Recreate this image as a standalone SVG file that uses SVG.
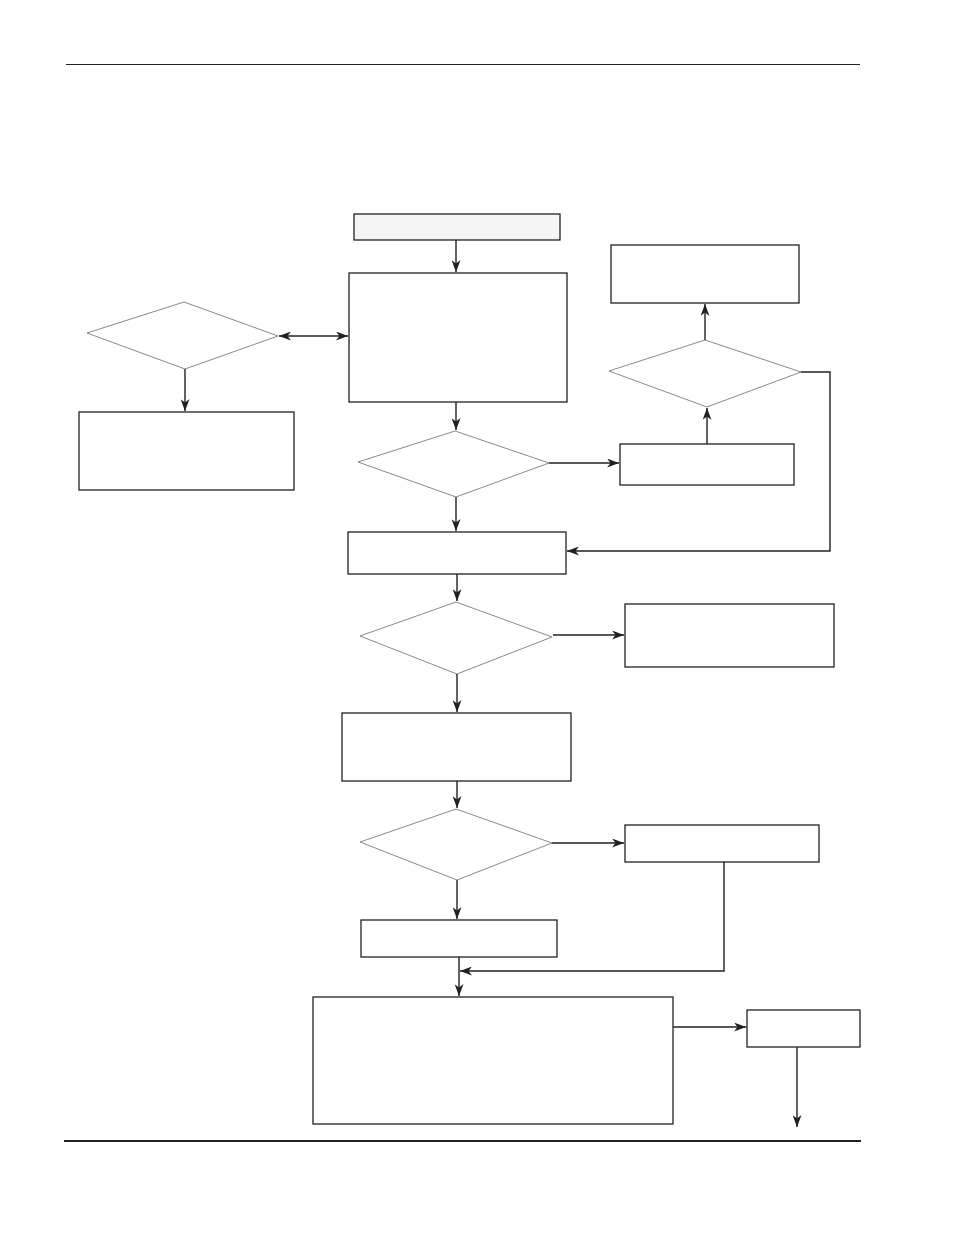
<svg xmlns="http://www.w3.org/2000/svg" width="954" height="1235" viewBox="0 0 954 1235">
<style>
.box{fill:#fff;stroke:#231f20;stroke-width:1.3}
.dia{fill:#fff;stroke:#8a8a8a;stroke-width:1}
.c{fill:none;stroke:#231f20;stroke-width:1.4}
.rule{stroke:#231f20}
</style>
<defs>
<marker id="ah" markerUnits="userSpaceOnUse" markerWidth="13" markerHeight="9" refX="12" refY="4.5" orient="auto-start-reverse" viewBox="0 0 13 9">
<path d="M0,0 L12,4.5 L0,9 L3.5,4.5 z" fill="#231f20"/>
</marker>
</defs>
<rect width="954" height="1235" fill="#fff"/>
<line class="rule" x1="66" y1="64.5" x2="860" y2="64.5" stroke-width="1.2"/>
<line class="rule" x1="64" y1="1141" x2="861" y2="1141" stroke-width="2.2"/>

<g id="start"><rect class="box" x="354" y="214" width="206" height="26" style="fill:#f5f5f5"/></g>
<g id="boxA"><rect class="box" x="349" y="273" width="218" height="129"/></g>
<g id="diaL"><polygon class="dia" points="87,333 184,302 278,336 185,369"/></g>
<g id="boxL"><rect class="box" x="79" y="412" width="215" height="78"/></g>
<g id="dia1"><polygon class="dia" points="358,462 455,431 549,463 456,497"/></g>
<g id="boxR1"><rect class="box" x="620" y="444" width="174" height="41"/></g>
<g id="diaR"><polygon class="dia" points="609,371 705,340 801,372 707,407"/></g>
<g id="boxTR"><rect class="box" x="611" y="245" width="188" height="58"/></g>
<g id="boxB"><rect class="box" x="348" y="532" width="218" height="42"/></g>
<g id="dia2"><polygon class="dia" points="360,636 456,602 552,637 457,674"/></g>
<g id="boxR2"><rect class="box" x="625" y="604" width="209" height="63"/></g>
<g id="boxC"><rect class="box" x="342" y="713" width="229" height="68"/></g>
<g id="dia3"><polygon class="dia" points="360,842 456,809 552,843 457,880"/></g>
<g id="boxR3"><rect class="box" x="625" y="825" width="194" height="37"/></g>
<g id="boxD"><rect class="box" x="361" y="920" width="196" height="37"/></g>
<g id="boxE"><rect class="box" x="313" y="997" width="360" height="127"/></g>
<g id="boxF"><rect class="box" x="747" y="1010" width="113" height="37"/></g>

<g id="connectors">
<line class="c" x1="456" y1="240" x2="456" y2="272" marker-end="url(#ah)"/>
<line class="c" x1="279" y1="336" x2="348" y2="336" marker-start="url(#ah)" marker-end="url(#ah)"/>
<line class="c" x1="185" y1="369" x2="185" y2="411" marker-end="url(#ah)"/>
<line class="c" x1="456" y1="402" x2="456" y2="430" marker-end="url(#ah)"/>
<line class="c" x1="549" y1="463" x2="619" y2="463" marker-end="url(#ah)"/>
<line class="c" x1="707" y1="444" x2="707" y2="408" marker-end="url(#ah)"/>
<line class="c" x1="705" y1="340" x2="705" y2="304" marker-end="url(#ah)"/>
<polyline class="c" points="801,372 830,372 830,551 567,551" marker-end="url(#ah)"/>
<line class="c" x1="456" y1="497" x2="456" y2="531" marker-end="url(#ah)"/>
<line class="c" x1="457" y1="574" x2="457" y2="601" marker-end="url(#ah)"/>
<line class="c" x1="553" y1="635" x2="624" y2="635" marker-end="url(#ah)"/>
<line class="c" x1="457" y1="674" x2="457" y2="712" marker-end="url(#ah)"/>
<line class="c" x1="457" y1="781" x2="457" y2="808" marker-end="url(#ah)"/>
<line class="c" x1="552" y1="843" x2="624" y2="843" marker-end="url(#ah)"/>
<polyline class="c" points="724,862 724,971 460,971" marker-end="url(#ah)"/>
<line class="c" x1="457" y1="880" x2="457" y2="919" marker-end="url(#ah)"/>
<line class="c" x1="459" y1="957" x2="459" y2="996" marker-end="url(#ah)"/>
<line class="c" x1="673" y1="1027" x2="746" y2="1027" marker-end="url(#ah)"/>
<line class="c" x1="797" y1="1047" x2="797" y2="1127" marker-end="url(#ah)"/>
</g>
</svg>
